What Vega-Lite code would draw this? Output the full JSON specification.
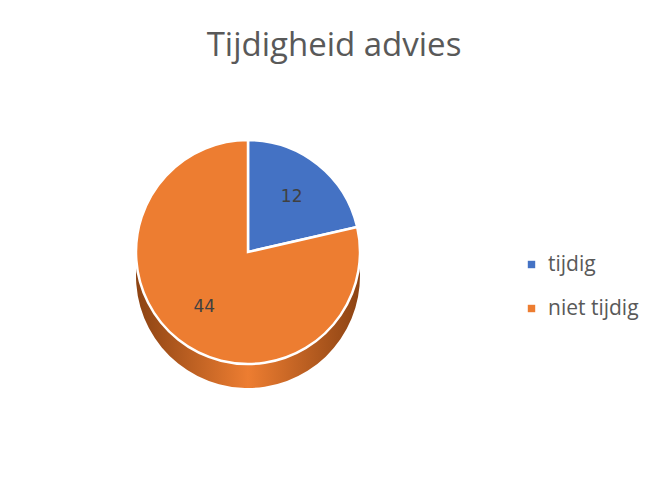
{
  "$schema": "https://vega.github.io/schema/vega-lite/v6.json",
  "width": 496,
  "height": 366,
  "padding": {"top": 30, "left": 0, "right": 0, "bottom": 0},
  "background": "white",
  "config": {"view": {"stroke": null}},
  "title": {"text": "Tijdigheid advies", "fontSize": 33, "font": "Open Sans", "fontWeight": "normal", "color": "#595959", "anchor": "middle", "dx": 86, "offset": 6},
  "data": {"values": [
    {"categorie": "tijdig", "aantal": 12},
    {"categorie": "niet tijdig", "aantal": 44}
  ]},
  "encoding": {
    "theta": {"field": "aantal", "type": "quantitative", "stack": true},
    "order": {"field": "aantal", "type": "quantitative", "sort": "ascending"}
  },
  "layer": [
    {
      "mark": {"type": "arc", "outerRadius": 112, "yOffset": 24, "stroke": null,
        "fill": {"gradient": "linear", "x1": 0, "x2": 1, "y1": 0, "y2": 0, "stops": [{"offset": 0, "color": "#8c4313"}, {"offset": 0.5, "color": "#ed7d31"}, {"offset": 1, "color": "#8c4313"}]}},
      "encoding": {"detail": {"field": "categorie", "type": "nominal"}}
    },
    {
      "mark": {"type": "arc", "outerRadius": 112, "stroke": "white", "strokeWidth": 2.5},
      "encoding": {
        "color": {"field": "categorie", "type": "nominal", "sort": ["tijdig", "niet tijdig"],
          "scale": {"domain": ["tijdig", "niet tijdig"], "range": ["#4472c4", "#ed7d31"]},
          "legend": {"title": null, "orient": "none", "legendX": 521, "legendY": 185, "symbolType": "square", "symbolSize": 55, "symbolStrokeWidth": 0, "labelFontSize": 21, "labelFont": "Open Sans", "labelColor": "#595959", "rowPadding": 22, "labelOffset": 6}}
      }
    },
    {
      "mark": {"type": "text", "radius": 70, "fontSize": 17, "font": "DejaVu Sans", "color": "#404040"},
      "encoding": {"text": {"field": "aantal", "type": "quantitative"}}
    }
  ]
}
